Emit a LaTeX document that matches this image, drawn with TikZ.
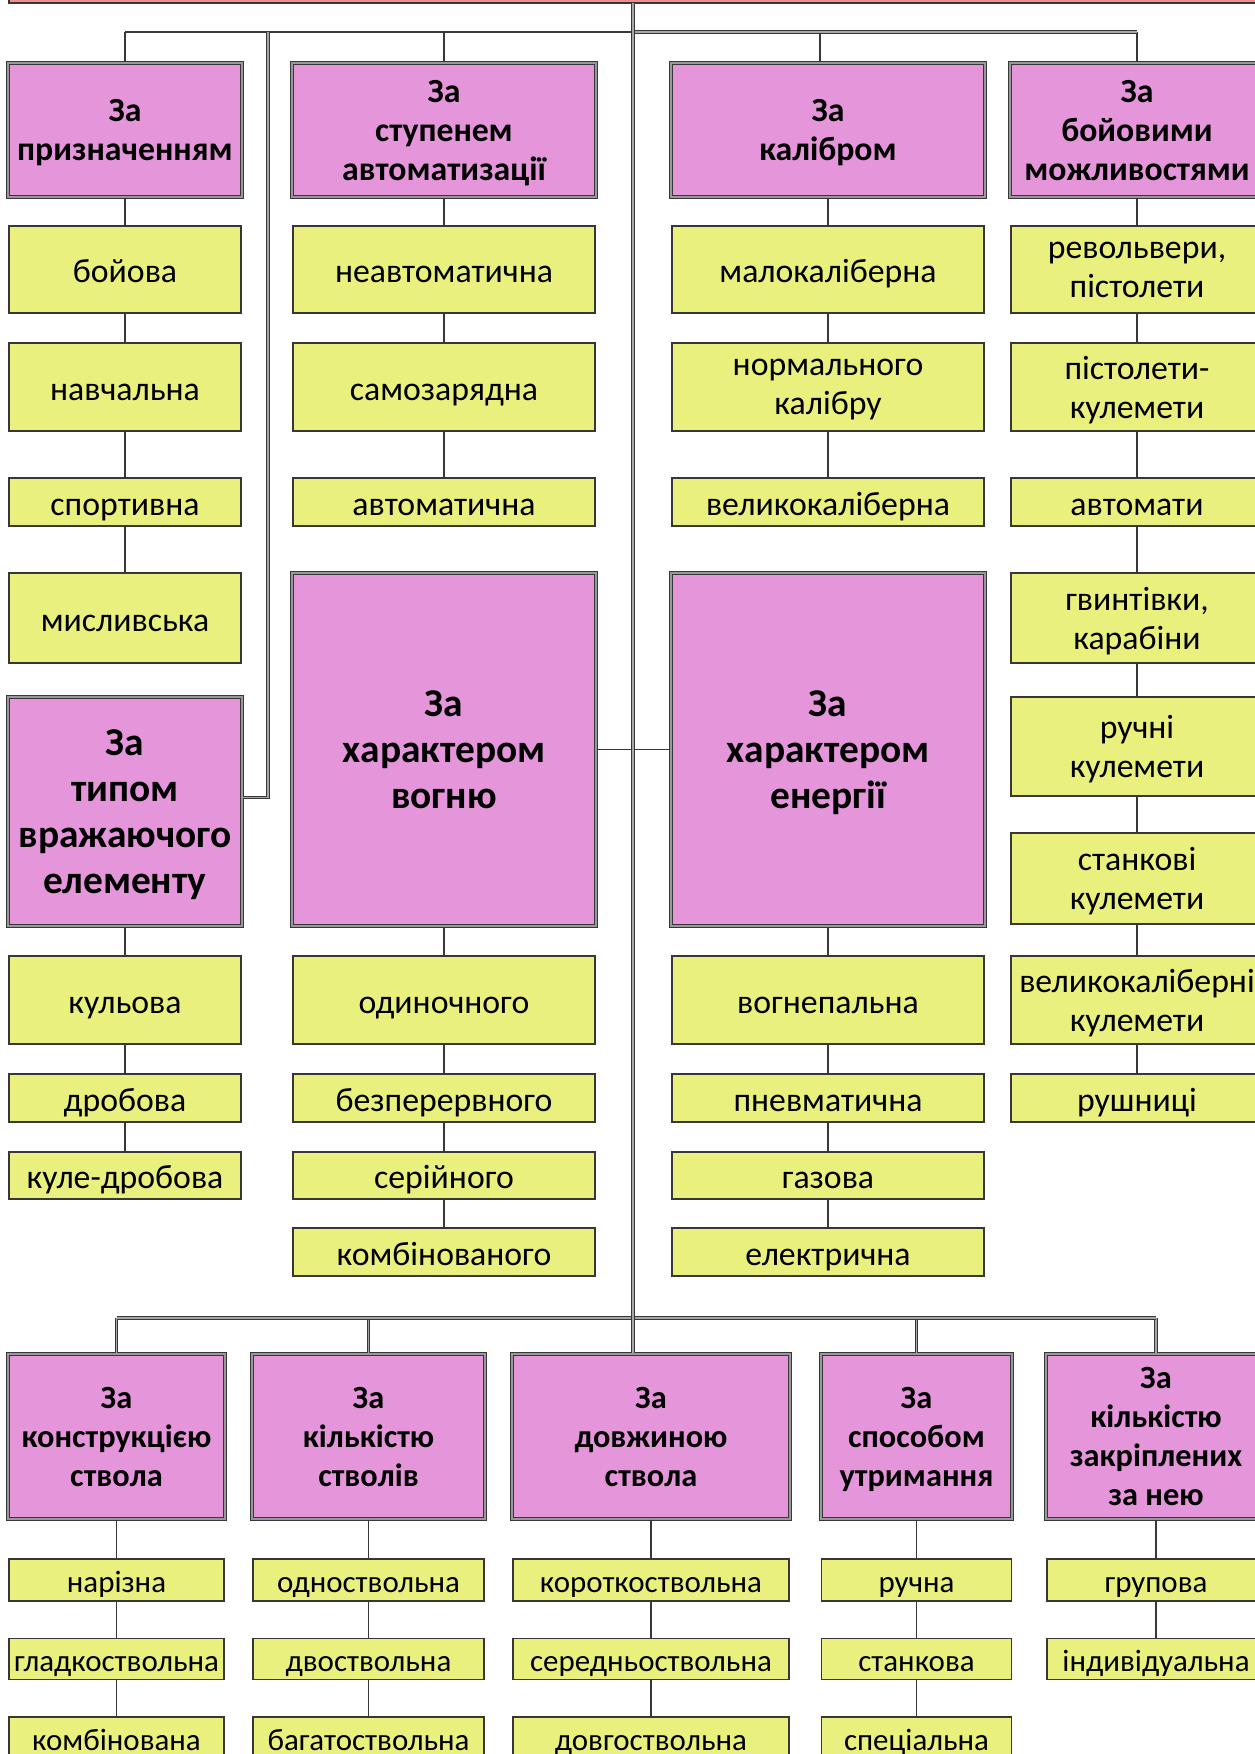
\documentclass[tikz,border=0pt]{standalone}
\usepackage{fontspec}
\setmainfont{Carlito}
\usepackage{xcolor}
\usetikzlibrary{calc}
\definecolor{hdrpink}{RGB}{229,150,218}
\definecolor{leafyellow}{RGB}{234,240,125}
\definecolor{barred}{RGB}{240,140,140}
\definecolor{edgegray}{RGB}{55,55,55}
\tikzset{
	box/.style 2 args={minimum width=#1*0.01cm, minimum height=#2*0.01cm},
	struts/.style={execute at begin node={\rule{0pt}{1.05em}}, execute at end node={\rule[-0.27em]{0pt}{0.27em}}},
	hdr/.style={text depth=-2.4pt, draw=edgegray, line width=0.35pt, double=black!40, double distance=0.7pt,
			fill=hdrpink, align=center, inner sep=0pt, font=\bfseries\fontsize{9.6}{11.1}\selectfont},
	bighdr/.style={hdr, font=\bfseries\fontsize{11.2}{13.1}\selectfont},
	lowhdr/.style={hdr, font=\bfseries\fontsize{9.2}{11.1}\selectfont},
	leafbase/.style={draw=edgegray, line width=0.45pt, fill=leafyellow, align=center, inner sep=0pt,
			font=\fontsize{9.6}{11.1}\selectfont},
	leaf/.style={leafbase, struts},
	mleaf/.style={leafbase, text depth=-4.6pt},
	lowleaf/.style={leaf, font=\fontsize{8.8}{11.1}\selectfont},
	titlebar/.style={draw=edgegray, line width=0.5pt, fill=barred},
	link/.style={draw=edgegray, line width=0.4pt},
	trunk/.style={draw=edgegray, line width=0.3pt, double=black!35, double distance=0.5pt}
}

\begin{document}
\begin{tikzpicture}[x=0.01cm, y=-0.01cm]
	\useasboundingbox[fill=white] (0,0) rectangle (1255,1754);
	\node[titlebar, box={1272}{40}] (title) at (645,-17) {};

	% top row of classes
	\node[hdr, box={234}{134}] (p0) at (125,130) {За\\призначенням};
	\node[hdr, box={304}{134}] (s0) at (444,130) {За\\ступенем\\автоматизації};
	\node[hdr, box={314}{134}] (k0) at (828,130) {За\\калібром};
	\node[hdr, box={254}{134}] (b0) at (1137,130) {За\\бойовими\\можливостями};

	% first column
	\node[leaf, box={232}{87}] (p1) at (125,269.5) {бойова};
	\node[leaf, box={232}{88}] (p2) at (125,387) {навчальна};
	\node[leaf, box={232}{48}] (p3) at (125,502) {спортивна};
	\node[leaf, box={232}{90}] (p4) at (125,618) {мисливська};
	\node[bighdr, box={234}{229}] (t0) at (125,811.5) {За\\типом\\вражаючого\\елементу};
	\node[leaf, box={232}{88}] (t1) at (125,1000) {кульова};
	\node[leaf, box={232}{48}] (t2) at (125,1098) {дробова};
	\node[leaf, box={232}{47}] (t3) at (125,1175.5) {куле-дробова};

	% second column
	\node[leaf, box={302}{87}] (s1) at (444,269.5) {неавтоматична};
	\node[leaf, box={302}{88}] (s2) at (444,387) {самозарядна};
	\node[leaf, box={302}{48}] (s3) at (444,502) {автоматична};
	\node[bighdr, box={304}{353}] (v0) at (444,749.5) {За\\характером\\вогню};
	\node[leaf, box={302}{88}] (v1) at (444,1000) {одиночного};
	\node[leaf, box={302}{48}] (v2) at (444,1098) {безперервного};
	\node[leaf, box={302}{47}] (v3) at (444,1175.5) {серійного};
	\node[leaf, box={302}{48}] (v4) at (444,1252) {комбінованого};

	% third column
	\node[leaf, box={312}{87}] (k1) at (828,269.5) {малокаліберна};
	\node[mleaf, box={312}{88}] (k2) at (828,387) {нормального\\калібру};
	\node[leaf, box={312}{48}] (k3) at (828,502) {великокаліберна};
	\node[bighdr, box={314}{353}] (e0) at (828,749.5) {За\\характером\\енергії};
	\node[leaf, box={312}{88}] (e1) at (828,1000) {вогнепальна};
	\node[leaf, box={312}{48}] (e2) at (828,1098) {пневматична};
	\node[leaf, box={312}{47}] (e3) at (828,1175.5) {газова};
	\node[leaf, box={312}{48}] (e4) at (828,1252) {електрична};

	% fourth column
	\node[mleaf, box={252}{87}] (b1) at (1137,269.5) {револьвери,\\пістолети};
	\node[mleaf, box={252}{88}] (b2) at (1137,387) {пістолети-\\кулемети};
	\node[leaf, box={252}{48}] (b3) at (1137,502) {автомати};
	\node[mleaf, box={252}{90}] (b4) at (1137,618) {гвинтівки,\\карабіни};
	\node[mleaf, box={252}{99}] (b5) at (1137,746.5) {ручні\\кулемети};
	\node[mleaf, box={252}{91}] (b6) at (1137,878.5) {станкові\\кулемети};
	\node[mleaf, box={252}{88}] (b7) at (1137,1000) {великокаліберні\\кулемети};
	\node[leaf, box={252}{48}] (b8) at (1137,1098) {рушниці};

	% bottom row of classes
	\node[lowhdr, box={217}{165}] (c0) at (116.5,1436.5) {За\\конструкцією\\ствола};
	\node[lowhdr, box={233}{165}] (n0) at (368.5,1436.5) {За\\кількістю\\стволів};
	\node[lowhdr, box={278}{165}] (d0) at (651,1436.5) {За\\довжиною\\ствола};
	\node[lowhdr, box={191}{165}] (u0) at (916.5,1436.5) {За\\способом\\утримання};
	\node[lowhdr, box={220}{165}] (z0) at (1156,1436.5) {За\\кількістю\\закріплених\\за нею};

	\node[lowleaf, box={215}{42}] (c1) at (116.5,1580) {нарізна};
	\node[lowleaf, box={215}{40}] (c2) at (116.5,1659) {гладкоствольна};
	\node[lowleaf, box={215}{42}] (c3) at (116.5,1738) {комбінована};
	\node[lowleaf, box={231}{42}] (n1) at (368.5,1580) {одноствольна};
	\node[lowleaf, box={231}{40}] (n2) at (368.5,1659) {двоствольна};
	\node[lowleaf, box={231}{42}] (n3) at (368.5,1738) {багатоствольна};
	\node[lowleaf, box={276}{42}] (d1) at (651,1580) {короткоствольна};
	\node[lowleaf, box={276}{40}] (d2) at (651,1659) {середньоствольна};
	\node[lowleaf, box={276}{42}] (d3) at (651,1738) {довгоствольна};
	\node[lowleaf, box={190}{42}] (u1) at (916.5,1580) {ручна};
	\node[lowleaf, box={190}{40}] (u2) at (916.5,1659) {станкова};
	\node[lowleaf, box={190}{42}] (u3) at (916.5,1738) {спеціальна};
	\node[lowleaf, box={218}{42}] (z1) at (1156,1580) {групова};
	\node[lowleaf, box={218}{40}] (z2) at (1156,1659) {індивідуальна};

	% chains inside every class
	\foreach \g/\m in {p/4, s/3, k/3, b/8, t/3, v/4, e/4, c/3, n/3, d/3, u/3, z/2}
		\foreach \i [remember=\i as \j (initially 0)] in {1,...,\m}
			\draw[link] (\g\j) -- (\g\i);

	% upper branching
	\coordinate (top) at (633,3);
	\coordinate (tl) at (125,32);
	\coordinate (tv) at (268,32);
	\coordinate (tm) at (633,32);
	\coordinate (tk) at (820,32);
	\coordinate (tr) at (1137,32);
	\draw[link] (tl) -- (p0);
	\draw[link] (s0.north |- tl) -- (s0);
	\draw[link] (tk) -- (tk |- k0.north);
	\draw[link] (tr) -- (b0);
	\draw[link] (tl) -- (tm);
	\draw[trunk] (tm) -- (tr);
	\draw[trunk] (tv) |- ($(t0.east)+(0,-14)$);
	\draw[link] (v0) -- (e0);

	% lower branching
	\coordinate (bl) at (116.5,1318);
	\coordinate (br) at (1156,1318);
	\foreach \h in {c0, n0, u0, z0}
		\draw[trunk] (\h.north |- bl) -- (\h.north);
	\draw[trunk] (bl) -- (br);
	\draw[trunk] (top) -- (top |- d0.north);
\end{tikzpicture}
\end{document}
